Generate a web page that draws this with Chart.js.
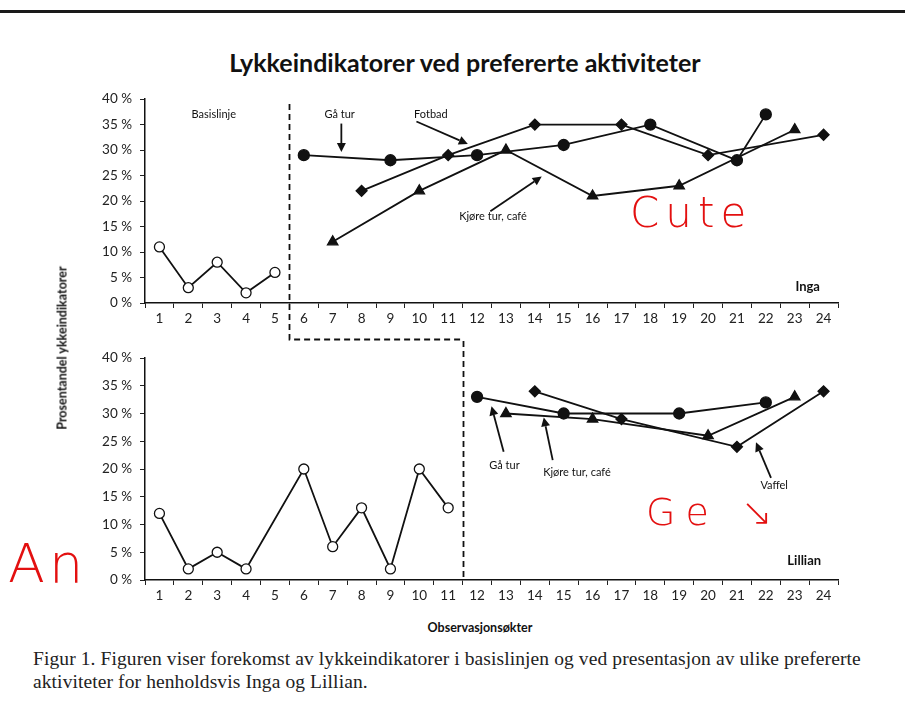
<!DOCTYPE html>
<html><head><meta charset="utf-8">
<script src="https://cdn.jsdelivr.net/npm/chart.js@4/dist/chart.umd.min.js"></script>
<style>
body{margin:0;background:#fff;width:905px;height:722px;position:relative;overflow:hidden;font-family:Lato,sans-serif;}
#rule{position:absolute;left:0;top:10px;width:905px;height:3px;background:#1a1a1a;}
#title{position:absolute;left:0;width:930px;top:47px;text-align:center;font:bold 25px Lato;color:#111;}
.wrap{position:absolute;left:0;width:905px;}
#w1{top:83px;height:258px;}
#w2{top:341px;height:264px;}
#ytitle{position:absolute;left:62px;top:348px;transform:translate(-50%,-50%) rotate(-90deg);font:bold 12.5px Lato;color:#111;white-space:nowrap;}
#xtitle{position:absolute;left:0;width:960px;top:620px;text-align:center;font:bold 12.5px Lato;color:#111;}
#caption{position:absolute;left:33px;top:647px;width:880px;font:19.5px "Liberation Serif",serif;letter-spacing:0.1px;line-height:23px;color:#222;white-space:nowrap;}
.red{position:absolute;color:#e31010;font-family:"DejaVu Sans",sans-serif;font-weight:200;}
</style></head>
<body>
<div id="rule"></div>
<div id="title">Lykkeindikatorer ved prefererte aktiviteter</div>
<div class="wrap" id="w1"><canvas id="c1" width="905" height="258"></canvas></div>
<div class="wrap" id="w2"><canvas id="c2" width="905" height="264"></canvas></div>
<div id="ytitle">Prosentandel ykkeindikatorer</div>
<div id="xtitle">Observasjonsøkter</div>
<div id="caption">Figur 1. Figuren viser forekomst av lykkeindikatorer i basislinjen og ved presentasjon av ulike prefererte<br>aktiviteter for henholdsvis Inga og Lillian.</div>
<div class="red" style="left:630px;top:188px;font-size:42px;letter-spacing:6px;">Cute</div>
<div class="red" style="left:646px;top:490px;font-size:38px;letter-spacing:10px;">Ge ↘</div>
<div class="red" style="left:8px;top:532px;font-size:54px;letter-spacing:4px;">An</div>
<script>
// ---- data ----
const sessions = ['1','2','3','4','5','6','7','8','9','10','11','12','13','14','15','16','17','18','19','20','21','22','23','24'];

// Inga
const ingaBaseSessions = [1,2,3,4,5];
const ingaBaseValues   = [11,3,8,2,6];
const ingaGaTurSessions = [6,9,12,15,18,21,22];
const ingaGaTurValues   = [29,28,29,31,35,28,37];
const ingaFotbadSessions = [8,11,14,17,20,24];
const ingaFotbadValues   = [22,29,35,35,29,33];
const ingaKjoreSessions = [7,10,13,16,19,23];
const ingaKjoreValues   = [12,22,30,21,23,34];

// Lillian
const lillianBaseSessions = [1,2,3,4,6,7,8,9,10,11];
const lillianBaseValues   = [12,2,5,2,20,6,13,2,20,13];
const lillianGaTurSessions = [12,15,19,22];
const lillianGaTurValues   = [33,30,30,32];
const lillianKjoreSessions = [13,16,20,23];
const lillianKjoreValues   = [30,29,26,33];
const lillianVaffelSessions = [14,17,21,24];
const lillianVaffelValues   = [34,29,24,34];

// annotations (session units, percent units)
const ingaNotes = [
  {text:'Basislinje', x:2.88, y:36.9},
  {text:'Gå tur', x:7.24, y:36.9},
  {text:'Fotbad', x:10.4, y:36.9},
  {text:'Kjøre tur, café', x:12.55, y:17.0},
  {text:'Inga', x:23.45, y:3.2, bold:true}
];
const ingaArrows = [
  {x1:7.3, y1:35.2, x2:7.3, y2:29.6},
  {x1:9.9, y1:35.6, x2:11.68, y2:31.2},
  {x1:12.46, y1:18.0, x2:14.24, y2:24.8}
];
const lillianNotes = [
  {text:'Gå tur', x:12.95, y:20.6},
  {text:'Kjøre tur, café', x:15.46, y:19.4},
  {text:'Vaffel', x:22.29, y:17.0},
  {text:'Lillian', x:23.33, y:3.4, bold:true}
];
const lillianArrows = [
  {x1:12.92, y1:23.1, x2:12.5, y2:31.3},
  {x1:14.62, y1:21.6, x2:14.31, y2:29.3},
  {x1:22.18, y1:18.4, x2:21.66, y2:24.8}
];
// phase change lines (between sessions)
const ingaPhaseChange = 5.5;
const lillianPhaseChange = 11.5;

// ---- helpers ----
function pts(s, v){ return s.map((k,i)=>({x:String(k), y:v[i]})); }
function series(s, v, style, radius, fill){
  return {data:pts(s,v), borderColor:'#111', borderWidth:1.8, tension:0, spanGaps:true,
    pointStyle:style, pointRadius:radius, pointBackgroundColor:fill, pointBorderColor:'#111', pointBorderWidth:1.3, fill:false};
}

const notesPlugin = {
  id:'notes',
  afterDatasetsDraw(chart, args, opts){
    const ctx = chart.ctx, xs = chart.scales.x, ys = chart.scales.y, ca = chart.chartArea;
    ctx.save();
    ctx.strokeStyle = '#111'; ctx.lineWidth = 1.8; ctx.setLineDash([6,4]);
    ctx.beginPath();
    if (opts.top){
      const xa = Math.round(xs.getPixelForValue(opts.div1 - 1)) + 0.5;
      const xb = Math.round(xs.getPixelForValue(opts.div2 - 1)) + 0.5;
      const yb = chart.height - 1.5;
      ctx.moveTo(xa, ca.top + 5); ctx.lineTo(xa, yb); ctx.lineTo(xb, yb);
    } else {
      const xb = Math.round(xs.getPixelForValue(opts.div2 - 1)) + 0.5;
      ctx.moveTo(xb, 0); ctx.lineTo(xb, ca.bottom);
    }
    ctx.stroke();
    ctx.setLineDash([]);
    ctx.fillStyle = '#111'; ctx.textAlign = 'center'; ctx.textBaseline = 'middle';
    opts.notes.forEach(n=>{
      ctx.font = n.bold ? 'bold 13px Lato' : '11px Lato';
      ctx.fillText(n.text, xs.getPixelForValue(n.x-1), ys.getPixelForValue(n.y));
    });
    ctx.lineWidth = 1.8;
    opts.arrows.forEach(a=>{
      const x1 = xs.getPixelForValue(a.x1-1), y1 = ys.getPixelForValue(a.y1);
      const x2 = xs.getPixelForValue(a.x2-1), y2 = ys.getPixelForValue(a.y2);
      const ang = Math.atan2(y2-y1, x2-x1), L = 9, W = 4.5;
      const bx = x2 - L*Math.cos(ang), by = y2 - L*Math.sin(ang);
      ctx.beginPath(); ctx.moveTo(x1,y1); ctx.lineTo(bx,by); ctx.stroke();
      ctx.beginPath(); ctx.moveTo(x2,y2);
      ctx.lineTo(bx + W*Math.sin(ang), by - W*Math.cos(ang));
      ctx.lineTo(bx - W*Math.sin(ang), by + W*Math.cos(ang));
      ctx.closePath(); ctx.fill();
    });
    ctx.restore();
  }
};

function scalesCfg(xh){
  return {
    x:{type:'category', offset:true,
       grid:{offset:true, drawOnChartArea:false, drawTicks:true, tickLength:5, color:'#222', lineWidth:1},
       border:{color:'#111', width:1.5},
       ticks:{color:'#222', font:{family:'Lato', size:13.5}, padding:3, maxRotation:0, autoSkip:false},
       afterFit(s){ s.height = xh; }},
    y:{min:0, max:40,
       grid:{drawOnChartArea:false, drawTicks:true, tickLength:5, color:'#222', lineWidth:1},
       border:{color:'#111', width:1.5},
       ticks:{stepSize:5, color:'#222', font:{family:'Lato', size:13.5}, padding:8, callback:v=>v+' %'},
       afterFit(s){ s.width = 145; }}
  };
}

new Chart(document.getElementById('c1'), {
  type:'line',
  data:{labels:sessions, datasets:[
    series(ingaBaseSessions, ingaBaseValues, 'circle', 5, '#fff'),
    series(ingaGaTurSessions, ingaGaTurValues, 'circle', 5.5, '#111'),
    series(ingaFotbadSessions, ingaFotbadValues, 'rectRot', 5.5, '#111'),
    series(ingaKjoreSessions, ingaKjoreValues, 'triangle', 6, '#111')
  ]},
  options:{responsive:false, animation:false, layout:{padding:{top:1, right:67, left:0, bottom:0}},
    scales:scalesCfg(38),
    plugins:{legend:{display:false}, tooltip:{enabled:false},
      notes:{top:true, div1:ingaPhaseChange, div2:lillianPhaseChange, notes:ingaNotes, arrows:ingaArrows}}},
  plugins:[notesPlugin]
});

new Chart(document.getElementById('c2'), {
  type:'line',
  data:{labels:sessions, datasets:[
    series(lillianBaseSessions, lillianBaseValues, 'circle', 5, '#fff'),
    series(lillianGaTurSessions, lillianGaTurValues, 'circle', 5.5, '#111'),
    series(lillianKjoreSessions, lillianKjoreValues, 'triangle', 6, '#111'),
    series(lillianVaffelSessions, lillianVaffelValues, 'rectRot', 5.5, '#111')
  ]},
  options:{responsive:false, animation:false, layout:{padding:{top:17, right:67, left:0, bottom:0}},
    scales:scalesCfg(25),
    plugins:{legend:{display:false}, tooltip:{enabled:false},
      notes:{top:false, div1:ingaPhaseChange, div2:lillianPhaseChange, notes:lillianNotes, arrows:lillianArrows}}},
  plugins:[notesPlugin]
});
</script>
</body></html>
